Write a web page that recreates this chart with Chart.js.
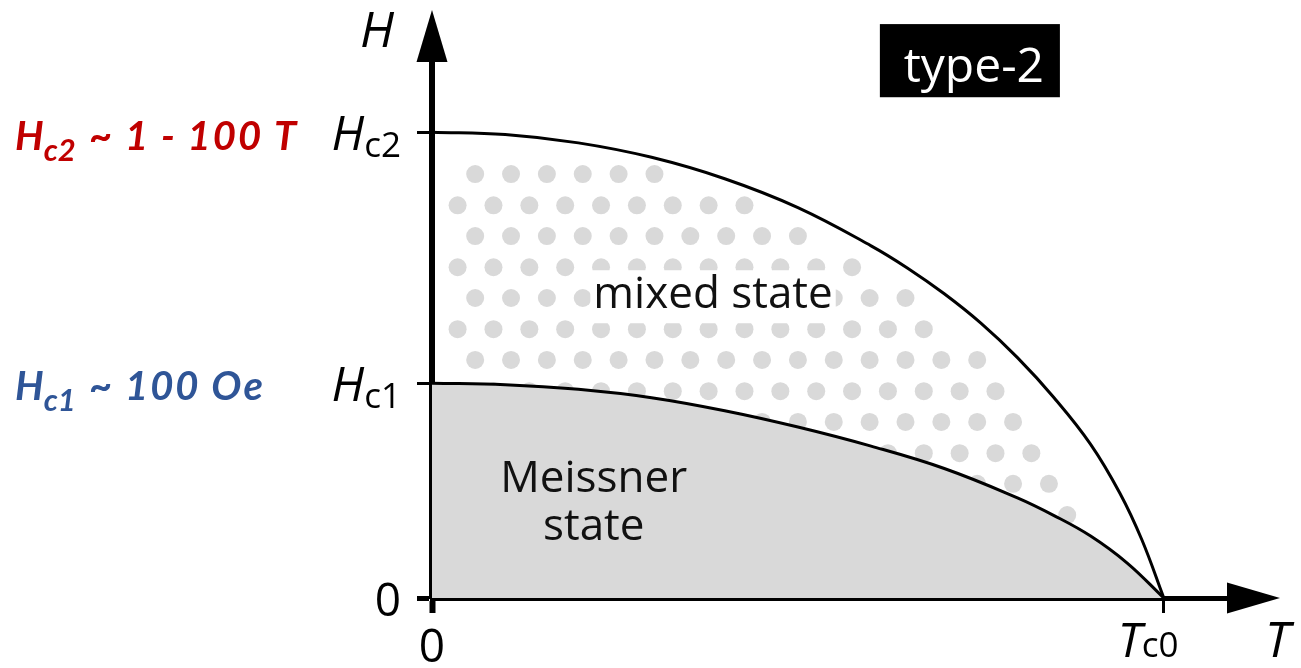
<!DOCTYPE html>
<html>
<head>
<meta charset="utf-8">
<script src="https://cdn.jsdelivr.net/npm/chart.js@4/dist/chart.umd.min.js"></script>
<style>
  body { margin: 0; background: #fff; }
  #wrap { width: 1301px; height: 668px; }
</style>
</head>
<body>
<div id="wrap"><canvas id="chart"></canvas></div>
<script>
'use strict';

// temperature in units of Tc0, field in units of Hc2
var hc2T = [0, 0.1, 0.2, 0.3, 0.4, 0.5, 0.6, 0.65, 0.7, 0.75, 0.8, 0.85, 0.9, 0.94, 0.97, 1];
var hc2Values = [1, 0.995, 0.977, 0.946, 0.9, 0.838, 0.756, 0.708, 0.653, 0.59, 0.516, 0.43, 0.33, 0.225, 0.125, 0];
var hc1T = [0, 0.1, 0.2, 0.3, 0.4, 0.5, 0.6, 0.7, 0.8, 0.85, 0.9, 0.95, 1];
var hc1Values = [0.461, 0.458, 0.448, 0.43, 0.402, 0.367, 0.326, 0.278, 0.215, 0.177, 0.133, 0.075, 0];

var yTickValues = [0, 0.461, 1];
var yTickLabels = [['0', ''], ['H', 'c1'], ['H', 'c2']];
var xTickValues = [0, 1];
var xTickLabels = [['0', ''], ['T', 'c0']];

// dot rows of the mixed-state texture
var dotRowH = [0.91, 0.843, 0.777, 0.71, 0.644, 0.577, 0.511, 0.444, 0.378, 0.311, 0.245, 0.178, 0.112];
var dotRowStart = [0.059, 0.035, 0.059, 0.035, 0.059, 0.035, 0.059, 0.035, 0.059, 0.035, 0.059, 0.035, 0.059];
var dotRowCount = [6, 9, 10, 12, 13, 14, 15, 16, 16, 17, 17, 18, 18];
var dotStep = 0.049;

var xMax = 1.1;
var yMax = 1.2;

var hc2Data = [];
for (var i = 0; i < hc2T.length; i++) {
  hc2Data.push({x: hc2T[i], y: hc2Values[i]});
}
var hc1Data = [];
for (var i = 0; i < hc1T.length; i++) {
  hc1Data.push({x: hc1T[i], y: hc1Values[i]});
}

var dotData = [];
for (var r = 0; r < dotRowH.length; r++) {
  for (var k = 0; k < dotRowCount[r]; k++) {
    dotData.push({x: dotRowStart[r] + k * dotStep, y: dotRowH[r]});
  }
}

var face = "'Open Sans'";

function subText(c, main, sub, x, base, mainFont, subFont, drop, align) {
  c.font = mainFont;
  var w1 = c.measureText(main).width;
  c.font = subFont;
  var w2 = c.measureText(sub).width;
  var left = x;
  if (align === 'right') left = x - w1 - w2;
  c.textAlign = 'left';
  c.font = mainFont;
  c.fillText(main, left, base);
  c.font = subFont;
  c.fillText(sub, left + w1, base + drop);
}

var drawPlugin = {
  id: 'drawPlugin',
  afterDraw: function(chart) {
    var c = chart.ctx;
    var xs = chart.scales.x;
    var ys = chart.scales.y;
    var ox = xs.getPixelForValue(0);
    var oy = ys.getPixelForValue(0);
    var right = xs.getPixelForValue(xMax);
    var top = ys.getPixelForValue(yMax);

    c.save();
    c.fillStyle = '#000';
    // arrow heads
    c.beginPath();
    c.moveTo(right - 10, oy - 15.5);
    c.lineTo(right + 43, oy);
    c.lineTo(right - 10, oy + 15.5);
    c.closePath();
    c.fill();
    c.beginPath();
    c.moveTo(ox - 15.5, top + 23);
    c.lineTo(ox, top - 29);
    c.lineTo(ox + 15.5, top + 23);
    c.closePath();
    c.fill();

    c.textBaseline = 'alphabetic';
    // axis titles
    c.font = 'italic 50px ' + face;
    c.textAlign = 'left';
    c.fillText('H', 360, 47);
    c.fillText('T', right + 28, 657);

    // tick labels
    for (var i = 0; i < yTickValues.length; i++) {
      var py = ys.getPixelForValue(yTickValues[i]);
      var lab = yTickLabels[i];
      if (lab[1]) {
        subText(c, lab[0], lab[1], 401, py + 18, 'italic 48px ' + face, '35px ' + face, 7, 'right');
      } else {
        c.font = '46px ' + face;
        c.textAlign = 'right';
        c.fillText(lab[0], 401, py + 18);
      }
    }
    for (var j = 0; j < xTickValues.length; j++) {
      var px = xs.getPixelForValue(xTickValues[j]);
      var xl = xTickLabels[j];
      if (xl[1]) {
        subText(c, xl[0], xl[1], px - 46, 657, 'italic 48px ' + face, '35px ' + face, 0, 'left');
      } else {
        c.font = '46px ' + face;
        c.textAlign = 'center';
        c.fillText(xl[0], px, 662);
      }
    }

    // mixed state label on a white patch
    var mx = xs.getPixelForValue(0.384);
    var my = ys.getPixelForValue(0.622);
    c.font = '44px ' + face;
    var mw = c.measureText('mixed state').width;
    c.fillStyle = '#fff';
    c.fillRect(mx - mw / 2 - 3, my - 38, mw + 6, 53);
    c.fillStyle = '#111';
    c.textAlign = 'center';
    c.fillText('mixed state', mx, my);

    // Meissner state label
    var sx = xs.getPixelForValue(0.221);
    c.fillText('Meissner', sx, ys.getPixelForValue(0.227));
    c.fillText('state', sx, ys.getPixelForValue(0.124));

    // type-2 box
    var bx1 = xs.getPixelForValue(0.612), bx2 = xs.getPixelForValue(0.858);
    var by1 = ys.getPixelForValue(1.232), by2 = ys.getPixelForValue(1.075);
    c.fillStyle = '#000';
    c.fillRect(bx1, by1, bx2 - bx1, by2 - by1);
    c.fillStyle = '#fff';
    c.font = '48px ' + face;
    c.fillText('type-2', (bx1 + bx2) / 2 + 4, by1 + 58);

    // critical field notes on the left
    c.fillStyle = '#c00000';
    subText(c, 'H', 'c2', 15, ys.getPixelForValue(1) + 18, 'bold italic 40px Lato', 'bold italic 31px Lato', 11, 'left');
    c.letterSpacing = '2px';
    c.font = 'bold italic 40px Lato';
    c.textAlign = 'left';
    c.fillText('~ 1 - 100 T', 89, ys.getPixelForValue(1) + 18);
    c.letterSpacing = '0px';
    c.fillStyle = '#2f5597';
    subText(c, 'H', 'c1', 15, ys.getPixelForValue(0.461) + 17, 'bold italic 40px Lato', 'bold italic 31px Lato', 11, 'left');
    c.letterSpacing = '2px';
    c.font = 'bold italic 40px Lato';
    c.fillText('~ 100 Oe', 89, ys.getPixelForValue(0.461) + 17);
    c.restore();
  }
};

var ctx = document.getElementById('chart').getContext('2d');

var chart = new Chart(ctx, {
  type: 'scatter',
  data: {
    datasets: [
      {
        label: 'Hc2',
        data: hc2Data,
        showLine: true,
        borderColor: '#000',
        borderWidth: 3,
        pointRadius: 0,
        tension: 0.4,
        fill: false,
        order: 1
      },
      {
        label: 'Hc1',
        data: hc1Data,
        showLine: true,
        borderColor: '#000',
        borderWidth: 3,
        pointRadius: 0,
        tension: 0.4,
        backgroundColor: '#d9d9d9',
        fill: 'origin',
        order: 2
      },
      {
        label: 'vortices',
        data: dotData,
        pointRadius: 9,
        pointBorderWidth: 0,
        pointBackgroundColor: '#d9d9d9',
        borderColor: 'rgba(0,0,0,0)',
        order: 3
      }
    ]
  },
  options: {
    responsive: true,
    maintainAspectRatio: false,
    animation: false,
    layout: { padding: { left: 432, right: 64, top: 39, bottom: 70 } },
    plugins: {
      legend: { display: false },
      tooltip: { enabled: false }
    },
    scales: {
      x: {
        type: 'linear',
        min: 0,
        max: xMax,
        afterFit: function(s) { s.height = 0; },
        afterBuildTicks: function(s) {
          s.ticks = xTickValues.map(function(v) { return {value: v}; });
        },
        ticks: { display: false },
        border: { display: true, color: '#000', width: 5 },
        grid: {
          drawOnChartArea: false,
          drawTicks: true,
          tickLength: 15,
          tickColor: '#000',
          tickWidth: function(c) { return c.tick && c.tick.value === 0 ? 6 : 3; }
        }
      },
      y: {
        type: 'linear',
        min: 0,
        max: yMax,
        afterFit: function(s) { s.width = 0; },
        afterBuildTicks: function(s) {
          s.ticks = yTickValues.map(function(v) { return {value: v}; });
        },
        ticks: { display: false },
        border: { display: true, color: '#000', width: 6 },
        grid: {
          drawOnChartArea: false,
          drawTicks: true,
          tickLength: 15,
          tickColor: '#000',
          tickWidth: function(c) { return c.tick && c.tick.value === 0 ? 5 : 3; }
        }
      }
    }
  },
  plugins: [drawPlugin]
});
</script>
</body>
</html>
